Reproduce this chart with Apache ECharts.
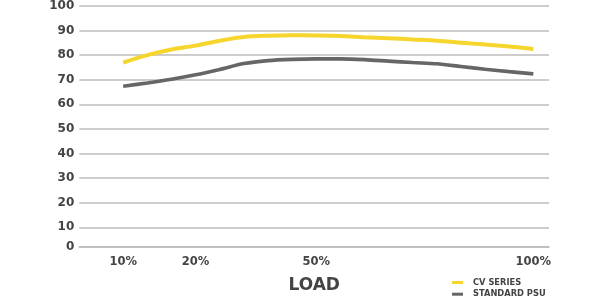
<!DOCTYPE html>
<html>
<head>
<meta charset="utf-8">
<style>
html,body{margin:0;padding:0;background:#fff;}
#chart{width:600px;height:299px;}
</style>
<script src="https://cdn.jsdelivr.net/npm/echarts@6/dist/echarts.min.js"></script>
</head>
<body>
<div id="chart"></div>
<script>
// x categories (evenly spaced sample points), only some are labelled
var loadLabels = ['10%','','','20%','','','','','50%','','','','','','','','','100%'];
var cvSeries    = [77.0,80.0,82.3,83.9,85.9,87.4,87.9,88.1,88.0,87.8,87.3,86.9,86.4,85.9,85.1,84.3,83.5,82.5];
var standardPsu = [67.4,68.7,70.2,72.0,74.2,76.6,77.8,78.3,78.5,78.5,78.2,77.6,77.0,76.5,75.4,74.3,73.3,72.4];
var yTicks = [0,10,20,30,40,50,60,70,80,90,100];
var seriesNames = ['CV SERIES','STANDARD PSU'];
var yBottom = 2; // the plot's bottom edge, labelled as the 0 tick

function pairs(arr){ return arr.map(function(v,i){ return [i,v]; }); }
var labelIdx = [];
loadLabels.forEach(function(l,i){ if(l) labelIdx.push(i); });
var yTickVals = yTicks.map(function(t){ return t===0 ? yBottom : t; });

var legendText = {fontFamily:'DejaVu Sans',fontWeight:'bold',fontSize:8.3,color:'#444',padding:[0,0,0,5]};
function mkLegend(name, top){
  return {left:452,top:top,icon:'rect',itemWidth:11,itemHeight:3,padding:0,
    textStyle:legendText,data:[name]};
}

var chart = echarts.init(document.getElementById('chart'));
chart.setOption({
  animation:false,
  grid:{left:79.3,right:51,top:4.7,bottom:49.7},
  legend:[mkLegend(seriesNames[0],278.5), mkLegend(seriesNames[1],290.2)],
  xAxis:{
    type:'value',min:-1.82,max:17.65,
    name:'LOAD',nameLocation:'middle',nameGap:30,
    nameTextStyle:{fontFamily:'DejaVu Sans',fontWeight:'bold',fontSize:17,color:'#444'},
    axisLine:{show:true,lineStyle:{color:'#bcbcbc',width:1.6}},
    axisTick:{show:false,customValues:labelIdx},
    splitLine:{show:false},
    axisLabel:{customValues:labelIdx,margin:9,fontFamily:'DejaVu Sans',fontWeight:'bold',fontSize:11.5,color:'#444',
      formatter:function(v){ return loadLabels[Math.round(v)]; }}
  },
  yAxis:{
    type:'value',min:yBottom,max:100,
    axisLine:{show:false},
    axisTick:{show:false,customValues:yTickVals},
    splitLine:{show:true,lineStyle:{color:'#bcbcbc',width:1.6}},
    axisLabel:{customValues:yTickVals,margin:5,fontFamily:'DejaVu Sans',fontWeight:'bold',fontSize:12,color:'#444',
      formatter:function(v){ return v===yBottom ? '0' : String(v); }}
  },
  series:[
    {name:seriesNames[0],type:'line',data:pairs(cvSeries),smooth:0.3,showSymbol:false,
      lineStyle:{color:'#f6d52c',width:4},itemStyle:{color:'#f6d52c'}},
    {name:seriesNames[1],type:'line',data:pairs(standardPsu),smooth:0.3,showSymbol:false,
      lineStyle:{color:'#666666',width:3.6},itemStyle:{color:'#666666'}}
  ]
});
</script>
</body>
</html>
